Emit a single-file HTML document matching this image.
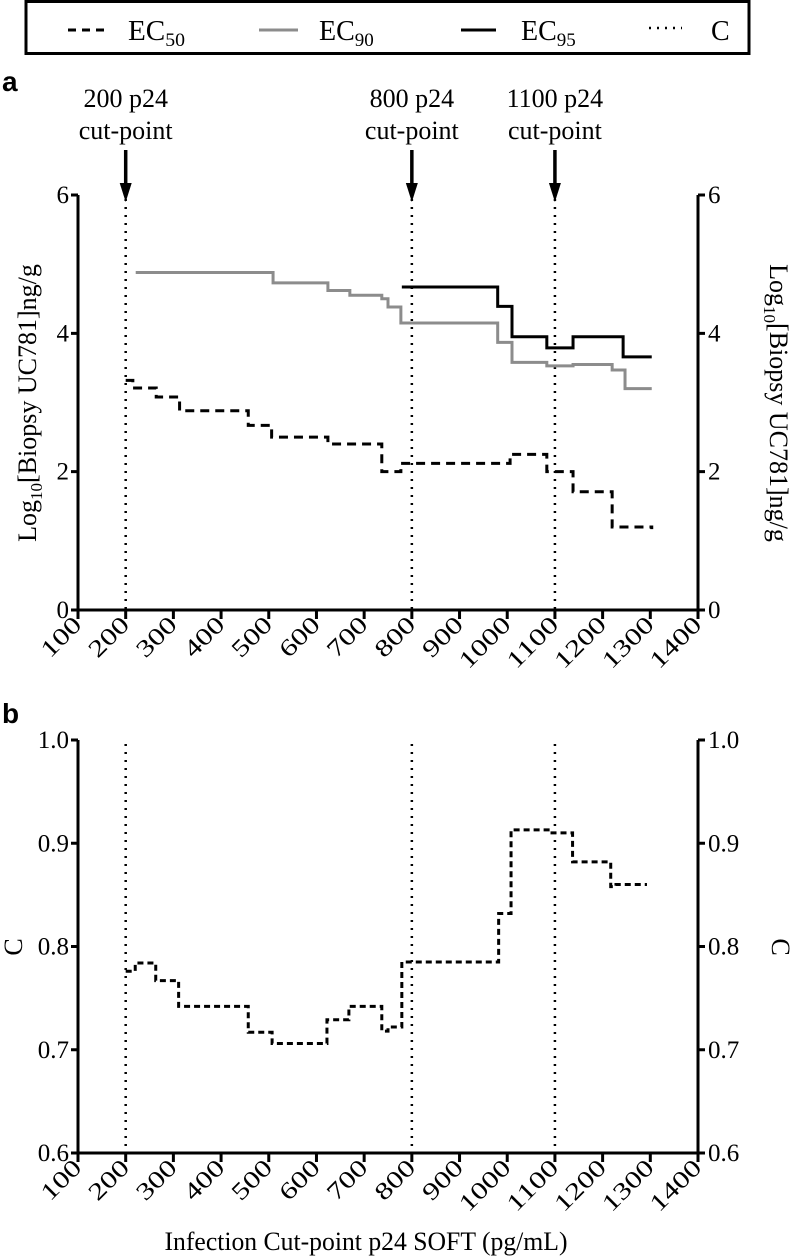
<!DOCTYPE html>
<html><head><meta charset="utf-8">
<style>
html,body{margin:0;padding:0;background:#fff;}
svg{display:block;font-family:"Liberation Serif",serif;}
</style></head>
<body>
<svg id="chart" width="792" height="1260" viewBox="0 0 792 1260" xmlns="http://www.w3.org/2000/svg">
  <g>
    <rect x="26" y="1.5" width="723" height="52" fill="#fff" stroke="#000" stroke-width="3"/>
    <g>
      <line x1="68" y1="30" x2="107" y2="30" stroke="#000" stroke-width="3" stroke-dasharray="8,6"/>
      <text x="128" y="40" font-size="28" textLength="57" lengthAdjust="spacingAndGlyphs">EC<tspan font-size="19" dy="6">50</tspan></text>
    </g>
    <g>
      <line x1="259" y1="30" x2="298" y2="30" stroke="#8c8c8c" stroke-width="3"/>
      <text x="319" y="40" font-size="28">EC<tspan font-size="19" dy="6">90</tspan></text>
    </g>
    <g>
      <line x1="461" y1="30" x2="496" y2="30" stroke="#000" stroke-width="3"/>
      <text x="521" y="40" font-size="28">EC<tspan font-size="19" dy="6">95</tspan></text>
    </g>
    <g>
      <line x1="649" y1="28" x2="682" y2="28" stroke="#000" stroke-width="2.5" stroke-dasharray="2,6"/>
      <text x="711" y="40" font-size="28">C</text>
    </g>
  </g>
  <text x="2" y="91" font-size="28" font-weight="bold" font-family="Liberation Sans, sans-serif">a</text>
  <text x="2" y="723" font-size="28" font-weight="bold" font-family="Liberation Sans, sans-serif">b</text>
  <g id="plotA"></g>
  <g id="plotB"></g>
  <text x="366" y="1250" font-size="26" text-anchor="middle" textLength="403" lengthAdjust="spacingAndGlyphs">Infection Cut-point p24 SOFT (pg/mL)</text>
</svg>
<script>
// ---- data ----
const xTicks = [100,200,300,400,500,600,700,800,900,1000,1100,1200,1300,1400];
const yTicksA = [0,2,4,6];
const yTicksB = [0.6,0.7,0.8,0.9,1.0];
const cutPoints = [200,800,1100];
const cutLabels = ["200 p24","800 p24","1100 p24"];
const ec50X = [200,215,264,313,457,506,624,737,777,1006,1083,1138,1220,1303];
const ec50Y = [3.32,3.21,3.08,2.88,2.67,2.50,2.40,2.00,2.12,2.25,2.00,1.71,1.20,1.17];
const ec90X = [221,509,624,670,737,750,777,980,1010,1083,1138,1220,1247,1303];
const ec90Y = [4.88,4.73,4.62,4.55,4.50,4.38,4.15,3.87,3.58,3.53,3.55,3.47,3.20,3.20];
const ec95X = [779,980,1010,1083,1138,1243,1303];
const ec95Y = [4.67,4.39,3.95,3.79,3.95,3.66,3.66];
const cX = [200,220,263,311,457,507,622,668,737,750,779,982,1008,1089,1137,1217,1228,1293];
const cY = [0.776,0.784,0.767,0.742,0.717,0.706,0.729,0.742,0.718,0.722,0.785,0.832,0.913,0.910,0.882,0.858,0.860,0.860];

const NS = "http://www.w3.org/2000/svg";
const X0 = 78, X1 = 698;
function xs(v){ return X0 + (v-100)/(1400-100)*(X1-X0); }
function yA(v){ return 610 - v/6*(610-195); }
function yB(v){ return 1153 - (v-0.6)/0.4*(1153-740); }

function mk(tag, attrs, parent){
  const e = document.createElementNS(NS, tag);
  for (const k in attrs) e.setAttribute(k, attrs[k]);
  parent.appendChild(e);
  return e;
}
function stepPath(X, Y, ys){
  let d = "M" + xs(X[0]) + "," + ys(Y[0]);
  for (let i=1;i<X.length;i++){
    d += " L" + xs(X[i]) + "," + ys(Y[i-1]);
    if (i < X.length-1 || Y[i]!==Y[i-1]) d += " L" + xs(X[i]) + "," + ys(Y[i]);
  }
  return d;
}

function drawAxes(g, ys, ticks, yTop, yBot, fmt, name){
  const ax = mk("path",{d:"M"+X0+","+yTop+" L"+X0+","+yBot+" L"+X1+","+yBot+" L"+X1+","+yTop, fill:"none", stroke:"#000","stroke-width":3}, g);
  
  
  ticks.forEach(t=>{
    const y = ys(t);
    const tl = mk("path",{d:"M"+(X0-7)+","+y+" L"+X0+","+y+" M"+X1+","+y+" L"+(X1+7)+","+y, stroke:"#000","stroke-width":3}, g);
    
    
    const l = mk("text",{x:X0-9, y:y+8, "font-size":25, "text-anchor":"end"}, g);
    l.textContent = fmt(t);
    
    
    const r = mk("text",{x:X1+10, y:y+8, "font-size":25, "text-anchor":"start"}, g);
    r.textContent = fmt(t);
    
    
  });
  xTicks.forEach(t=>{
    const x = xs(t);
    const tk = mk("line",{x1:x,y1:yBot,x2:x,y2:yBot+9,stroke:"#000","stroke-width":3}, g);
    
    
    const s = String(t);
    const lx = x+5, ly = yBot+16;
    const tx = mk("text",{x:lx,y:ly,"font-size":24,"text-anchor":"end",transform:"rotate(-45 "+lx+" "+ly+")",textLength:s.length*15.5,lengthAdjust:"spacingAndGlyphs"}, g);
    tx.textContent = s;
    
    
  });
  cutPoints.forEach(c=>{
    const v = mk("line",{x1:xs(c),y1:yTop+4,x2:xs(c),y2:yBot,stroke:"#000","stroke-width":2.5,"stroke-dasharray":"2,6"}, g);
    
    
  });
}

// Panel A
const gA = document.getElementById("plotA");
drawAxes(gA, yA, yTicksA, 195, 610, t=>String(t), "panel-a");
cutPoints.forEach((c,i)=>{
  const x = xs(c);
  const t1 = mk("text",{x:x,y:107,"font-size":26,"text-anchor":"middle"}, gA);
  t1.textContent = cutLabels[i];
  
  
  const t2 = mk("text",{x:x,y:139,"font-size":26,"text-anchor":"middle"}, gA);
  t2.textContent = "cut-point";
  
  
  const ar = mk("path",{d:"M"+x+",150 L"+x+",188", stroke:"#000","stroke-width":3.5}, gA);
  
  
  const ah = mk("path",{d:"M"+(x-6)+",183 L"+(x+6)+",183 L"+x+",202 Z", fill:"#000"}, gA);
  
  
});
const l90 = mk("path",{d:stepPath(ec90X,ec90Y,yA),fill:"none",stroke:"#8c8c8c","stroke-width":3}, gA);


const l95 = mk("path",{d:stepPath(ec95X,ec95Y,yA),fill:"none",stroke:"#000","stroke-width":3}, gA);


const l50 = mk("path",{d:stepPath(ec50X,ec50Y,yA),fill:"none",stroke:"#000","stroke-width":3,"stroke-dasharray":"9,6"}, gA);


const ytA = mk("text",{x:0,y:0,"font-size":26,"text-anchor":"middle",transform:"translate(36 403) rotate(-90)"}, gA);
ytA.innerHTML = 'Log<tspan font-size="17" dy="6">10</tspan><tspan dy="-6">[Biopsy UC781]ng/g</tspan>';


const ytA2 = mk("text",{x:0,y:0,"font-size":26,"text-anchor":"middle",transform:"translate(770 403) rotate(90)"}, gA);
ytA2.innerHTML = 'Log<tspan font-size="17" dy="6">10</tspan><tspan dy="-6">[Biopsy UC781]ng/g</tspan>';



// Panel B
const gB = document.getElementById("plotB");
drawAxes(gB, yB, yTicksB, 740, 1153, t=>t.toFixed(1), "panel-b");
const lc = mk("path",{d:stepPath(cX,cY,yB),fill:"none",stroke:"#000","stroke-width":3,"stroke-dasharray":"6,4"}, gB);


const ytB = mk("text",{x:0,y:0,"font-size":26,"text-anchor":"middle",transform:"translate(22 947) rotate(-90)"}, gB);
ytB.textContent = "C";


const ytB2 = mk("text",{x:0,y:0,"font-size":26,"text-anchor":"middle",transform:"translate(772 947) rotate(90)"}, gB);
ytB2.textContent = "C";


</script>
</body></html>
